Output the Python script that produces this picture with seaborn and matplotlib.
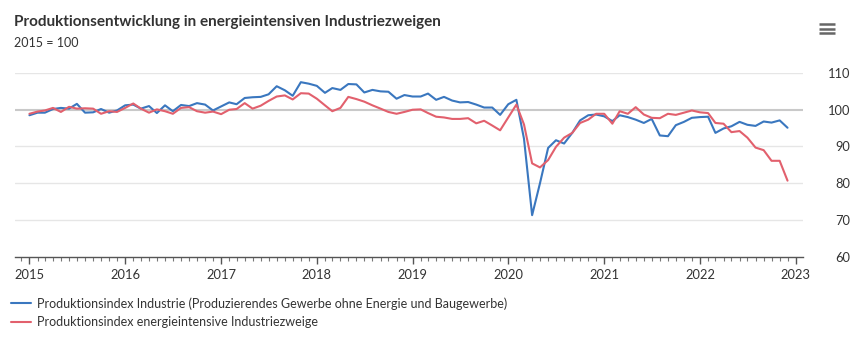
import matplotlib
matplotlib.use("Agg")
import matplotlib.pyplot as plt
import matplotlib.dates as mdates
from matplotlib.lines import Line2D
import seaborn as sns
import pandas as pd
import numpy as np

# ---- data (monthly, Jan 2015 - Dec 2022, 2015 = 100) ----
months = pd.date_range("2015-01-01", "2022-12-01", freq="MS")

industrie = [
    # 2015
    98.5, 99.2, 99.2, 100.2, 100.5, 100.3, 101.6, 99.2, 99.3, 100.2, 99.2, 99.8,
    # 2016
    101.2, 101.4, 100.3, 101.0, 99.1, 101.2, 99.6, 101.3, 101.0, 101.8, 101.4, 99.8,
    # 2017
    100.9, 102.0, 101.5, 103.2, 103.4, 103.5, 104.2, 106.4, 105.3, 103.8, 107.5, 107.1,
    # 2018
    106.5, 104.6, 105.9, 105.4, 107.0, 106.9, 104.7, 105.4, 105.0, 104.9, 103.0, 104.0,
    # 2019
    103.6, 103.6, 104.4, 102.7, 103.5, 102.5, 102.0, 102.1, 101.4, 100.6, 100.6, 98.6,
    # 2020
    101.5, 102.7, 92.1, 71.3, 80.0, 89.6, 91.7, 90.8, 93.7, 97.1, 98.5, 98.7,
    # 2021
    98.2, 96.9, 98.5, 98.0, 97.3, 96.4, 97.5, 93.0, 92.8, 95.8, 96.7, 97.8,
    # 2022
    98.0, 98.1, 93.7, 94.9, 95.5, 96.7, 95.9, 95.6, 96.8, 96.5, 97.1, 95.1,
]

energieintensiv = [
    # 2015
    98.9, 99.5, 99.8, 100.5, 99.4, 100.8, 100.3, 100.4, 100.3, 98.9, 99.6, 99.4,
    # 2016
    100.5, 101.7, 100.3, 99.2, 100.1, 99.6, 98.9, 100.5, 100.7, 99.6, 99.2, 99.5,
    # 2017
    98.8, 100.0, 100.2, 101.8, 100.3, 101.1, 102.4, 103.6, 103.9, 102.8, 104.5, 104.4,
    # 2018
    103.0, 101.2, 99.6, 100.5, 103.5, 102.9, 102.2, 101.2, 100.3, 99.4, 98.9, 99.4,
    # 2019
    100.0, 100.1, 99.1, 98.1, 97.9, 97.5, 97.5, 97.7, 96.3, 97.0, 95.7, 94.4,
    # 2020
    97.9, 101.4, 96.0, 85.4, 84.3, 86.3, 89.9, 92.4, 93.7, 96.4, 97.3, 98.9,
    # 2021
    98.9, 96.2, 99.6, 98.9, 100.7, 98.7, 97.8, 97.7, 98.9, 98.6, 99.2, 99.8,
    # 2022
    99.3, 99.1, 96.4, 96.2, 93.9, 94.2, 92.4, 89.7, 89.0, 86.1, 86.1, 80.7,
]

series_names = [
    "Produktionsindex Industrie (Produzierendes Gewerbe ohne Energie und Baugewerbe)",
    "Produktionsindex energieintensive Industriezweige",
]
y_ticks = [60, 70, 80, 90, 100, 110]

df = pd.DataFrame({
    "Monat": list(months) * 2,
    "Index": industrie + energieintensiv,
    "Reihe": [series_names[0]] * len(months) + [series_names[1]] * len(months),
})

# ---- styling ----
sns.set_theme(style="white")
plt.rcParams["font.family"] = ["Lato", "DejaVu Sans"]

BLUE = "#3a77bf"
RED = "#e2606d"
TXT = "#333333"

W, H = 858, 350
fig = plt.figure(figsize=(W / 100, H / 100), dpi=100)
fig.patch.set_facecolor("white")

ax_left, ax_right = 15 / W, 803 / W
ax_bottom, ax_top = (H - 256.7) / H, (H - 73) / H
ax = fig.add_axes([ax_left, ax_bottom, ax_right - ax_left, ax_top - ax_bottom])

# grid lines
for v in y_ticks:
    if v == 100:
        ax.axhline(v, color="#c9c9c9", lw=1.5, zorder=1)
    elif v != 60:
        ax.axhline(v, color="#e6e6e6", lw=1.0, zorder=1)

sns.lineplot(data=df, x="Monat", y="Index", hue="Reihe",
             palette=[BLUE, RED], linewidth=1.5, ax=ax, legend=False, zorder=3)

ax.set_ylim(60, 110)
ax.set_xlim(pd.Timestamp("2014-11-07"), pd.Timestamp("2023-01-29"))

for s in ["top", "left", "right"]:
    ax.spines[s].set_visible(False)
ax.spines["bottom"].set_color("#555555")
ax.spines["bottom"].set_linewidth(1.0)

ax.set_xlabel("")
ax.set_ylabel("")

ax.xaxis.set_major_locator(mdates.YearLocator())
ax.xaxis.set_major_formatter(mdates.DateFormatter("%Y"))
ax.xaxis.set_minor_locator(mdates.MonthLocator())
ax.tick_params(axis="x", which="major", length=5, width=1, color="#555555",
               labelsize=9.3, labelcolor=TXT, pad=4, bottom=True)
ax.tick_params(axis="x", which="minor", length=3, width=0.8, color="#777777", bottom=True)

ax.yaxis.tick_right()
ax.set_yticks(y_ticks)
ax.set_yticklabels([str(v) for v in y_ticks])
ax.tick_params(axis="y", length=0, labelsize=9.3, labelcolor=TXT, pad=34)
for lab in ax.get_yticklabels():
    lab.set_horizontalalignment("right")

# title and subtitle
fig.text(14 / W, 1 - 22 / H, "Produktionsentwicklung in energieintensiven Industriezweigen",
         fontsize=11.0, fontweight="bold", color=TXT, va="center", ha="left")
fig.text(14 / W, 1 - 43 / H, "2015 = 100", fontsize=9.0, color=TXT, va="center", ha="left")

# menu icon
for yy in (24, 28.5, 33):
    fig.add_artist(Line2D([819 / W, 835 / W], [1 - yy / H] * 2,
                          color="#666666", lw=1.8, solid_capstyle="butt"))

# legend
handles = [Line2D([0], [0], color=BLUE, lw=1.5), Line2D([0], [0], color=RED, lw=1.5)]
fig.legend(handles, series_names, loc="upper left", bbox_to_anchor=(6 / W, 1 - 292 / H),
           frameon=False, fontsize=9.0, handlelength=1.6, handletextpad=0.45,
           labelspacing=0.55, labelcolor=TXT, borderaxespad=0)

fig.savefig("out.png", dpi=100, facecolor="white")
